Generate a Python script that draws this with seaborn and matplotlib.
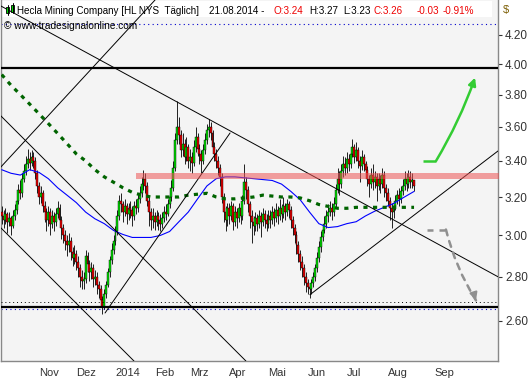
import numpy as np
import pandas as pd
import seaborn as sns
import matplotlib.pyplot as plt
from matplotlib.patches import Rectangle, FancyArrowPatch

# Hecla Mining (HL), daily bars 04.10.2013 - 21.08.2014, open = previous close
first_open = 3.12

close_oct = [3.10, 3.08, 3.11, 3.07, 3.09, 3.05, 3.10, 3.13, 3.18, 3.24,
             3.22, 3.30, 3.34, 3.38, 3.41, 3.39, 3.42, 3.40, 3.33, 3.26]
high_oct = [3.15, 3.13, 3.14, 3.12, 3.12, 3.10, 3.13, 3.16, 3.21, 3.27,
            3.29, 3.33, 3.38, 3.43, 3.47, 3.45, 3.46, 3.45, 3.42, 3.35]
low_oct = [3.06, 3.04, 3.06, 3.01, 3.05, 3.00, 3.04, 3.08, 3.11, 3.16,
           3.19, 3.20, 3.28, 3.32, 3.36, 3.35, 3.37, 3.36, 3.30, 3.22]

close_nov = [3.20, 3.22, 3.15, 3.12, 3.08, 3.12, 3.06, 3.10, 3.07, 3.11,
             3.14, 3.08, 3.04, 3.00, 2.97, 2.95, 2.97, 2.92, 2.89, 2.91]
high_nov = [3.28, 3.26, 3.24, 3.18, 3.14, 3.15, 3.14, 3.13, 3.12, 3.14,
            3.18, 3.16, 3.10, 3.06, 3.03, 3.00, 3.01, 2.99, 2.94, 2.95]
low_nov = [3.16, 3.17, 3.12, 3.07, 3.02, 3.05, 3.00, 3.04, 3.02, 3.05,
           3.09, 3.05, 2.98, 2.96, 2.93, 2.90, 2.92, 2.88, 2.85, 2.86]

close_dec = [2.87, 2.84, 2.80, 2.78, 2.79, 2.90, 2.86, 2.82, 2.84, 2.79, 2.80,
             2.76, 2.74, 2.69, 2.66, 2.72, 2.76, 2.82, 2.88, 2.93, 2.97]
high_dec = [2.93, 2.90, 2.86, 2.83, 2.82, 2.93, 2.92, 2.88, 2.87, 2.86, 2.83,
            2.82, 2.78, 2.76, 2.71, 2.74, 2.78, 2.84, 2.90, 2.96, 3.00]
low_dec = [2.83, 2.80, 2.75, 2.74, 2.74, 2.77, 2.82, 2.78, 2.79, 2.75, 2.76,
           2.72, 2.70, 2.66, 2.63, 2.65, 2.70, 2.75, 2.80, 2.86, 2.91]

close_jan = [3.02, 3.10, 3.18, 3.16, 3.12, 3.15, 3.11, 3.14, 3.13, 3.10, 3.15,
             3.14, 3.19, 3.22, 3.27, 3.30, 3.26, 3.18, 3.12, 3.08, 3.10]
high_jan = [3.05, 3.13, 3.21, 3.22, 3.18, 3.19, 3.17, 3.17, 3.18, 3.15, 3.18,
            3.19, 3.22, 3.26, 3.31, 3.35, 3.33, 3.28, 3.20, 3.14, 3.14]
low_jan = [2.95, 3.00, 3.08, 3.12, 3.07, 3.10, 3.06, 3.08, 3.09, 3.05, 3.08,
           3.11, 3.12, 3.17, 3.20, 3.24, 3.22, 3.15, 3.05, 3.03, 3.04]

close_feb = [3.07, 3.10, 3.08, 3.06, 3.09, 3.12, 3.11, 3.16, 3.20, 3.25,
             3.36, 3.52, 3.60, 3.55, 3.46, 3.50, 3.42, 3.48, 3.40]
high_feb = [3.12, 3.13, 3.12, 3.11, 3.12, 3.15, 3.16, 3.19, 3.24, 3.29,
            3.40, 3.56, 3.76, 3.66, 3.58, 3.56, 3.53, 3.54, 3.50]
low_feb = [3.03, 3.05, 3.03, 3.02, 3.04, 3.07, 3.08, 3.10, 3.14, 3.18,
           3.23, 3.34, 3.50, 3.50, 3.42, 3.43, 3.38, 3.40, 3.36]

close_mar = [3.42, 3.39, 3.48, 3.54, 3.47, 3.44, 3.40, 3.46, 3.52, 3.58, 3.60,
             3.56, 3.48, 3.44, 3.40, 3.36, 3.31, 3.20, 3.12, 3.08, 3.14]
high_mar = [3.47, 3.45, 3.52, 3.60, 3.56, 3.50, 3.46, 3.50, 3.56, 3.62, 3.65,
            3.63, 3.58, 3.51, 3.47, 3.43, 3.38, 3.33, 3.22, 3.15, 3.17]
low_mar = [3.34, 3.33, 3.37, 3.45, 3.43, 3.38, 3.33, 3.38, 3.44, 3.50, 3.54,
           3.52, 3.45, 3.40, 3.36, 3.32, 3.26, 3.17, 3.07, 3.02, 3.05]

close_apr = [3.10, 3.15, 3.07, 3.12, 3.09, 3.14, 3.10, 3.18, 3.28, 3.24, 3.16,
             3.10, 3.07, 3.05, 3.09, 3.06, 3.10, 3.07, 3.11, 3.08, 3.06]
high_apr = [3.17, 3.18, 3.17, 3.15, 3.14, 3.17, 3.16, 3.21, 3.38, 3.31, 3.26,
            3.18, 3.13, 3.10, 3.12, 3.11, 3.13, 3.12, 3.14, 3.13, 3.11]
low_apr = [3.06, 3.08, 3.03, 3.05, 3.04, 3.07, 3.06, 3.08, 3.16, 3.19, 3.12,
           3.04, 2.96, 3.00, 3.02, 3.02, 3.04, 2.99, 3.05, 3.04, 3.02]

close_may = [3.10, 3.08, 3.12, 3.09, 3.13, 3.10, 3.14, 3.11, 3.15, 3.12, 3.16,
             3.13, 3.08, 3.04, 3.00, 2.95, 2.91, 2.87, 2.84, 2.80, 2.77]
high_may = [3.13, 3.13, 3.15, 3.14, 3.17, 3.15, 3.19, 3.16, 3.20, 3.17, 3.19,
            3.18, 3.15, 3.10, 3.06, 3.02, 2.97, 2.93, 2.90, 2.86, 2.82]
low_may = [3.04, 3.04, 3.06, 3.05, 3.07, 3.06, 3.08, 3.07, 3.09, 3.08, 3.10,
           3.09, 3.04, 3.00, 2.96, 2.91, 2.87, 2.83, 2.80, 2.76, 2.73]

close_jun = [2.75, 2.74, 2.77, 2.80, 2.84, 2.89, 2.94, 2.99, 3.03, 3.06, 3.10,
             3.12, 3.14, 3.12, 3.16, 3.24, 3.30, 3.27, 3.34, 3.38, 3.36]
high_jun = [2.79, 2.77, 2.79, 2.82, 2.86, 2.92, 2.97, 3.02, 3.06, 3.10, 3.13,
            3.16, 3.18, 3.17, 3.20, 3.27, 3.36, 3.34, 3.38, 3.43, 3.42]
low_jun = [2.72, 2.70, 2.72, 2.75, 2.78, 2.82, 2.87, 2.92, 2.97, 3.01, 3.04,
           3.07, 3.10, 3.08, 3.10, 3.14, 3.22, 3.21, 3.25, 3.31, 3.32]

close_jul = [3.41, 3.38, 3.44, 3.48, 3.42, 3.46, 3.40, 3.37, 3.42, 3.38, 3.35,
             3.30, 3.27, 3.32, 3.28, 3.31, 3.26, 3.30, 3.27, 3.32, 3.25, 3.22]
high_jul = [3.45, 3.44, 3.48, 3.53, 3.50, 3.51, 3.48, 3.43, 3.46, 3.44, 3.40,
            3.37, 3.32, 3.36, 3.38, 3.34, 3.33, 3.33, 3.32, 3.36, 3.34, 3.27]
low_jul = [3.33, 3.34, 3.36, 3.42, 3.39, 3.40, 3.36, 3.28, 3.35, 3.34, 3.31,
           3.26, 3.20, 3.25, 3.24, 3.25, 3.18, 3.24, 3.22, 3.25, 3.20, 3.18]

close_aug = [3.18, 3.14, 3.12, 3.15, 3.18, 3.21, 3.19, 3.23, 3.26, 3.30,
             3.27, 3.31, 3.28, 3.29, 3.26]
high_aug = [3.25, 3.20, 3.17, 3.18, 3.21, 3.24, 3.25, 3.26, 3.30, 3.34,
            3.33, 3.35, 3.34, 3.33, 3.29]
low_aug = [3.15, 3.08, 3.04, 3.09, 3.13, 3.16, 3.15, 3.17, 3.21, 3.24,
           3.23, 3.25, 3.25, 3.25, 3.23]

# moving averages, read every 5th bar (last point = last bar)
ma_pos = list(range(0, 220, 5)) + [221]
ma_slow = [3.93, 3.86, 3.80, 3.74, 3.68, 3.62, 3.56, 3.50, 3.44, 3.40, 3.35,
           3.31, 3.28, 3.25, 3.225, 3.21, 3.20, 3.20, 3.20, 3.20, 3.21, 3.215,
           3.22, 3.20, 3.19, 3.19, 3.195, 3.20, 3.21, 3.205, 3.20, 3.20, 3.195,
           3.18, 3.16, 3.15, 3.14, 3.14, 3.145, 3.145, 3.145, 3.145, 3.145,
           3.145, 3.145]
ma_fast = [3.35, 3.33, 3.32, 3.35, 3.335, 3.30, 3.25, 3.21, 3.17, 3.12, 3.085,
           3.06, 3.025, 3.005, 2.99, 2.99, 2.99, 3.00, 3.02, 3.07, 3.12, 3.19,
           3.26, 3.30, 3.31, 3.31, 3.305, 3.30, 3.295, 3.29, 3.27, 3.23, 3.185,
           3.12, 3.06, 3.04, 3.045, 3.06, 3.07, 3.10, 3.125, 3.145, 3.165,
           3.195, 3.23]

# drawn trend lines: (bar, price) -> (bar, price)
trend_lines = [
    ((-0.9, 3.672), (130.9, 2.430)),
    ((-0.9, 3.043), (70.9, 2.430)),
    ((-0.9, 3.360), (82.2, 4.454)),
    ((55.4, 2.634), (122.4, 3.563)),
    ((-0.9, 4.413), (266.0, 2.799)),
    ((165.2, 2.716), (266.0, 3.457)),
]
h_solid = [3.975, 2.662]
h_dotted_black = 2.682
h_dotted_blue = [4.278, 2.652]
zone_low, zone_high, zone_start = 3.297, 3.334, 72.0
arrow_up = [(225.8, 3.40), (232.8, 3.40), (253.7, 3.91)]
arrow_down = [(227.9, 3.03), (238.1, 3.03), (254.2, 2.69)]

price_ticks = [2.60, 2.80, 3.00, 3.20, 3.40, 3.60, 3.80, 4.00, 4.20]
month_labels = {1: '2014', 2: 'Feb', 3: 'Mrz', 4: 'Apr', 5: 'Mai', 6: 'Jun',
                7: 'Jul', 8: 'Aug', 9: 'Sep', 11: 'Nov', 12: 'Dez'}

closes = (close_oct + close_nov + close_dec + close_jan + close_feb + close_mar
          + close_apr + close_may + close_jun + close_jul + close_aug)
highs = (high_oct + high_nov + high_dec + high_jan + high_feb + high_mar
         + high_apr + high_may + high_jun + high_jul + high_aug)
lows = (low_oct + low_nov + low_dec + low_jan + low_feb + low_mar
        + low_apr + low_may + low_jun + low_jul + low_aug)

holidays = ['2013-11-28', '2013-12-25', '2014-01-01', '2014-01-20',
            '2014-02-17', '2014-04-18', '2014-05-26', '2014-07-04']
trade_days = pd.bdate_range('2013-10-04', '2014-08-21', freq='C', holidays=holidays)
future_days = pd.date_range('2014-08-22', '2014-09-30', freq='D')
all_days = trade_days.append(future_days)

bars = pd.DataFrame({'date': trade_days, 'close': closes, 'high': highs, 'low': lows})
bars['open'] = [first_open] + closes[:-1]
bars['pos'] = np.arange(len(bars))

sns.set_style('white')
plt.rcParams['font.family'] = ['Liberation Sans', 'DejaVu Sans']

W, H = 530, 380
fig = plt.figure(figsize=(W / 100, H / 100), dpi=100)
ax = fig.add_axes([1 / W, 19 / H, 497 / W, 361 / H])
ax.set_facecolor('#f4f4f4')
ax.set_yscale('log')
ax.set_xlim(-0.36, 266.0)
ax.set_ylim(2.430, 4.454)


def fx(px):
    return px / W


def fy(py):
    return 1 - py / H


# white header strip
ax.add_patch(Rectangle((fx(2), fy(17)), fx(490), 16 / H, transform=fig.transFigure,
                       facecolor='white', edgecolor='none', zorder=0.5))

# candles
up = bars['close'] >= bars['open']
body_low = np.minimum(bars['open'], bars['close'])
body_h = np.maximum(np.abs(bars['close'] - bars['open']), 0.004)
ax.vlines(bars['pos'], bars['low'], bars['high'], color='black', lw=0.6, zorder=3)
ax.bar(bars['pos'], body_h, bottom=body_low, width=1.05,
       color=np.where(up, '#00e000', '#ee0000'), edgecolor='black', lw=0.3, zorder=4)

# moving averages
sns.lineplot(x=ma_pos, y=ma_fast, ax=ax, color='#0000ff', lw=0.8, zorder=5)
sns.lineplot(x=ma_pos, y=ma_slow, ax=ax, color='#006400', lw=2.3,
             linestyle=(0, (1.3, 1.7)), zorder=6)

# resistance zone
ax.fill_between([zone_start, 270], zone_low, zone_high, color='#ee5555',
                alpha=0.55, lw=0, zorder=7)

# horizontal lines
for v in h_solid:
    ax.axhline(v, color='black', lw=1.6, zorder=6)
ax.axhline(h_dotted_black, color='black', lw=0.7, linestyle=(0, (1, 3)), zorder=6)
for v in h_dotted_blue:
    ax.axhline(v, color='#0000cc', lw=0.8, linestyle=(0, (1, 3)), zorder=2)

# trend lines
for (x0, y0), (x1, y1) in trend_lines:
    ax.plot([x0, x1], [y0, y1], color='black', lw=0.7, zorder=6)

# scenario arrows
ax.plot([arrow_up[0][0], arrow_up[1][0]], [arrow_up[0][1], arrow_up[1][1]],
        color='#33cc33', lw=1.8, solid_capstyle='butt', zorder=8)
ax.add_patch(FancyArrowPatch(arrow_up[1], arrow_up[2], arrowstyle='-|>',
                             mutation_scale=11, color='#33cc33', lw=1.8,
                             connectionstyle='arc3,rad=0.05', shrinkA=0, shrinkB=0,
                             zorder=8))
ax.plot([arrow_down[0][0], arrow_down[1][0]], [arrow_down[0][1], arrow_down[1][1]],
        color='#909090', lw=1.8, linestyle=(0, (2.4, 2.4)), zorder=8)
ax.add_patch(FancyArrowPatch(arrow_down[1], arrow_down[2], arrowstyle='-',
                             color='#909090', lw=1.8, linestyle=(0, (2.4, 2.4)),
                             connectionstyle='arc3,rad=0.08', shrinkA=0, shrinkB=0,
                             zorder=8))
tip_from = (arrow_down[2][0] - 1.2, arrow_down[2][1] * 1.012)
ax.add_patch(FancyArrowPatch(tip_from, arrow_down[2], arrowstyle='-|>',
                             mutation_scale=11, color='#909090', lw=1.5,
                             shrinkA=0, shrinkB=0, zorder=8))

# axes styling
ax.set_yticks(price_ticks)
ax.set_yticklabels([f'{v:.2f}' for v in price_ticks])
ax.set_yticks([], minor=True)
ax.yaxis.tick_right()
ax.tick_params(axis='y', length=3, pad=2, labelsize=8.5, colors='#333333')

m = all_days.month
starts = [i for i in range(1, len(all_days)) if m[i] != m[i - 1]]
ax.set_xticks(starts)
ax.set_xticklabels([month_labels[m[i]] for i in starts], ha='left')
ax.set_xticks([], minor=True)
ax.tick_params(axis='x', length=3, pad=2, labelsize=8, colors='#333333')
ax.set_xlabel('')
ax.set_ylabel('')
for side in ['left', 'right', 'bottom']:
    ax.spines[side].set_color('#888888')
    ax.spines[side].set_linewidth(1)
ax.spines['top'].set_visible(False)

# header
hdr_y = fy(10.5)
header = [('Hecla Mining Company [HL NYS  Täglich]', 17, 'black'),
          ('21.08.2014 -', 209, 'black'), ('O:3.24', 273, '#ee0000'),
          ('H:3.27', 309, 'black'), ('L:3.23', 343, 'black'),
          ('C:3.26', 373, '#ee0000'), ('-0.03', 417, '#ee0000'),
          ('-0.91%', 443, '#ee0000')]
for txt, px, col in header:
    fig.text(fx(px), hdr_y, txt, color=col, fontsize=7.1, va='center', ha='left')
fig.text(fx(4), fy(26), '© www.tradesignalonline.com', fontsize=7.3,
         va='center', ha='left', color='black')
fig.text(fx(503), fy(10), '$', fontsize=8, va='center', ha='left', color='#7a5c00')

# chart-type icon
for (bx, by, bw, bh), (wy0, wy1) in [((6, 7, 3, 6), (5, 15)), ((11, 5, 3, 7), (3, 13))]:
    fig.add_artist(plt.Line2D([fx(bx + 1.5)] * 2, [fy(wy0), fy(wy1)],
                              transform=fig.transFigure, color='black', lw=0.7))
    fig.add_artist(Rectangle((fx(bx), fy(by + bh)), bw / W, bh / H,
                             transform=fig.transFigure, facecolor='#00dd00',
                             edgecolor='black', lw=0.6))

fig.savefig('out.png', dpi=100)
